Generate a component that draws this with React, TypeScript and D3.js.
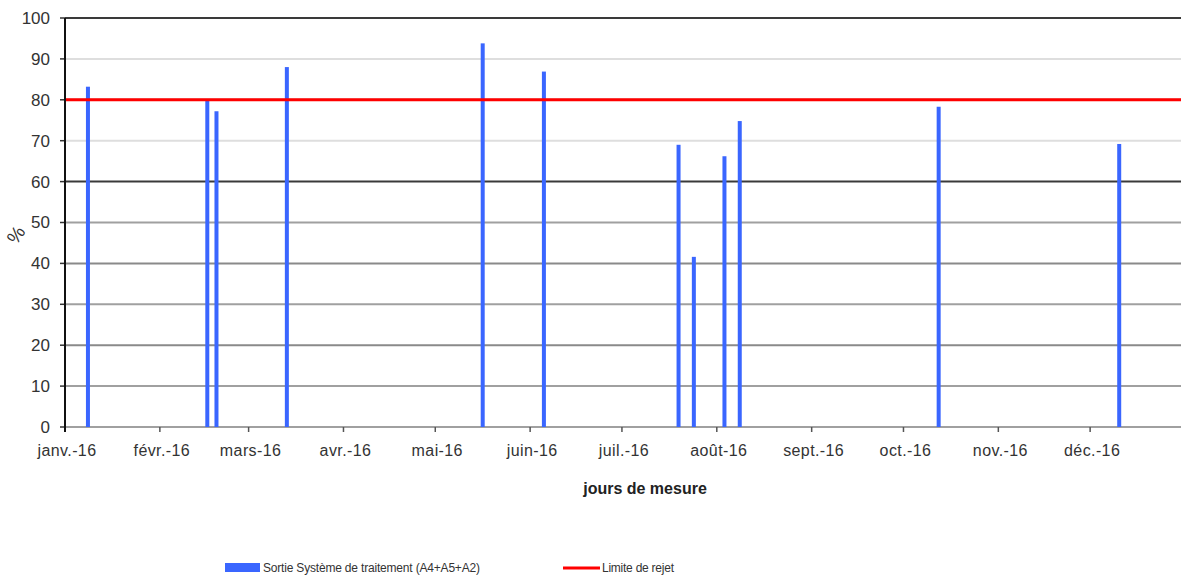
import { useMemo } from "react";
import * as d3 from "d3";

// ── Data ──────────────────────────────────────────────────────────────────────

const measureDates = [
  "2016-01-08",
  "2016-02-16",
  "2016-02-19",
  "2016-03-13",
  "2016-05-16",
  "2016-06-05",
  "2016-07-19",
  "2016-07-24",
  "2016-08-03",
  "2016-08-08",
  "2016-10-12",
  "2016-12-10",
];

const rendement = [83.2, 80, 77.2, 88, 93.8, 86.9, 69, 41.6, 66.2, 74.8, 78.3, 69.2];

const limiteRejet = 80;

const monthLabels = [
  "janv.-16", "févr.-16", "mars-16", "avr.-16", "mai-16", "juin-16",
  "juil.-16", "août-16", "sept.-16", "oct.-16", "nov.-16", "déc.-16",
];

const yTicks = [0, 10, 20, 30, 40, 50, 60, 70, 80, 90, 100];

const seriesName = "Sortie Système de traitement (A4+A5+A2)";
const limitName = "Limite de rejet";

// ── Layout ────────────────────────────────────────────────────────────────────

const W = 1181;
const H = 579;
const PLOT = { left: 65, right: 1185, top: 18, bottom: 427 };
const BLUE = "#3a66ff";
const RED = "#ff0000";
const FONT = "'Liberation Sans', Arial, sans-serif";
const BAR_W = 4;

/** Blurry source: gridlines come in a few shades */
function gridColor(v: number): string {
  if (v === 100 || v === 60) return "#3a3a3a";
  if (v === 90 || v === 70) return "#dedede";
  if (v === 40 || v === 20) return "#8a8a8a";
  return "#a0a0a0";
}

export default function App() {
  const parse = d3.timeParse("%Y-%m-%d");

  const x = useMemo(
    () =>
      d3
        .scaleTime()
        .domain([new Date(2016, 0, 1), new Date(2017, 0, 1)])
        .range([PLOT.left, PLOT.right]),
    []
  );
  const y = useMemo(
    () => d3.scaleLinear().domain([0, 100]).range([PLOT.bottom, PLOT.top]),
    []
  );

  const months = d3.timeMonth.range(new Date(2016, 0, 1), new Date(2017, 0, 1));
  // bars sit at midday of the measurement day
  const points = measureDates.map((d, i) => ({
    date: d3.timeHour.offset(parse(d)!, 12),
    value: rendement[i],
  }));

  return (
    <svg
      width={W}
      height={H}
      style={{ position: "absolute", left: 0, top: 0, background: "#fff" }}
      fontFamily={FONT}
    >
      {/* Gridlines */}
      {yTicks.map((v) => (
        <line
          key={v}
          x1={PLOT.left}
          x2={W}
          y1={y(v)}
          y2={y(v)}
          stroke={gridColor(v)}
          strokeWidth={2}
        />
      ))}

      {/* Y ticks + labels */}
      {yTicks.map((v) => (
        <g key={`yt${v}`}>
          <line x1={PLOT.left - 5} x2={PLOT.left} y1={y(v)} y2={y(v)} stroke="#333" strokeWidth={1.5} />
          <text
            x={PLOT.left - 15}
            y={y(v)}
            dy="0.35em"
            textAnchor="end"
            fontSize={17}
            fill="#333"
          >
            {v}
          </text>
        </g>
      ))}

      {/* X ticks + labels */}
      {months.map((m, i) => (
        <g key={`xt${i}`}>
          {i > 0 && (
            <line x1={x(m)} x2={x(m)} y1={PLOT.bottom} y2={PLOT.bottom + 5} stroke="#555" strokeWidth={1.5} />
          )}
          <text
            x={x(m) + 2}
            y={PLOT.bottom + 29}
            textAnchor="middle"
            fontSize={16}
            letterSpacing={0.4}
            fill="#333"
          >
            {monthLabels[i]}
          </text>
        </g>
      ))}

      {/* Bars */}
      {points.map((p, i) => (
        <rect
          key={i}
          x={x(p.date) - BAR_W / 2}
          y={y(p.value)}
          width={BAR_W}
          height={y(0) - y(p.value)}
          fill={BLUE}
        />
      ))}

      {/* Limit line */}
      <line
        x1={PLOT.left}
        x2={W}
        y1={y(limiteRejet)}
        y2={y(limiteRejet)}
        stroke={RED}
        strokeWidth={3}
      />

      {/* Left axis */}
      <line x1={PLOT.left} x2={PLOT.left} y1={PLOT.top} y2={PLOT.bottom + 5} stroke="#111" strokeWidth={2} />

      {/* Axis titles */}
      <text
        transform={`translate(16,${y(47)}) rotate(-55)`}
        textAnchor="middle"
        dy="0.35em"
        fontSize={19}
        fill="#333"
      >
        %
      </text>
      <text x={645} y={494} textAnchor="middle" fontSize={16} fontWeight="bold" fill="#222">
        jours de mesure
      </text>

      {/* Legend */}
      <rect x={225} y={563} width={35} height={9} fill={BLUE} />
      <text x={263} y={568} dy="0.35em" fontSize={12} fill="#333" textLength={217}>
        {seriesName}
      </text>
      <line x1={563} x2={600} y1={568} y2={568} stroke={RED} strokeWidth={3} />
      <text x={602} y={568} dy="0.35em" fontSize={12} fill="#333" textLength={72}>
        {limitName}
      </text>
    </svg>
  );
}
